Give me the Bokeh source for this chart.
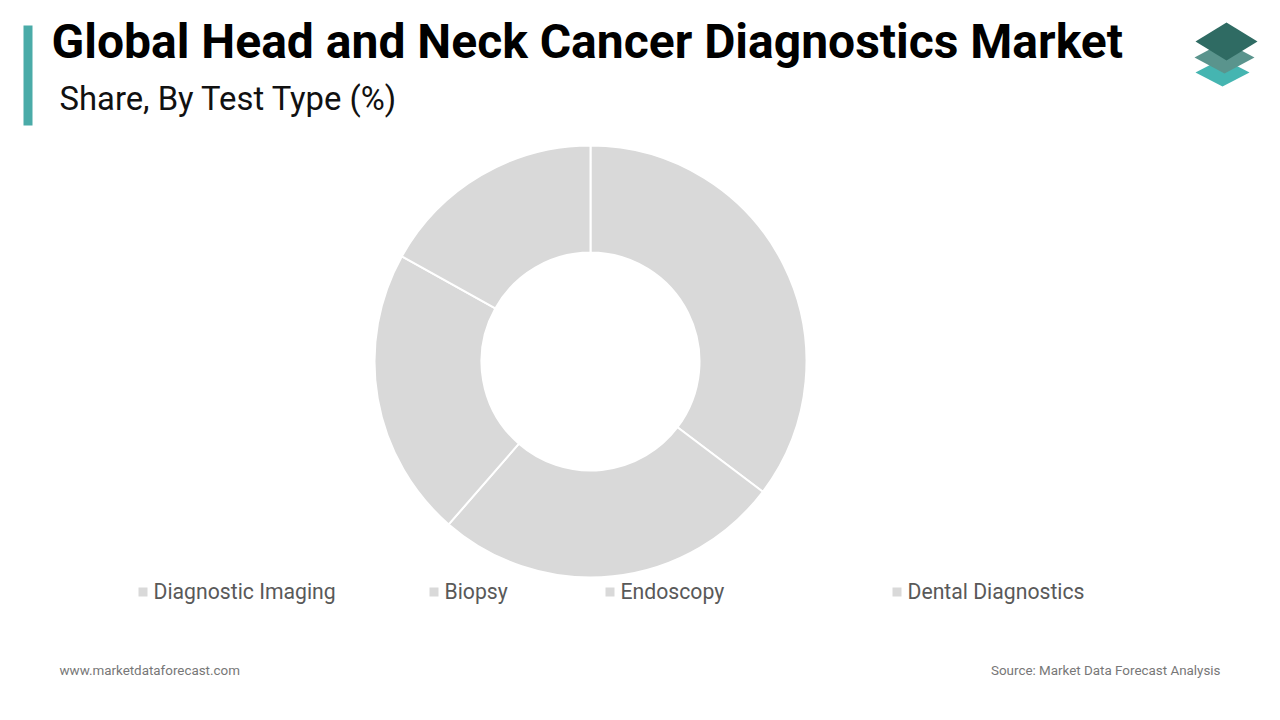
import math
from bokeh.plotting import figure
from bokeh.models import Range1d
from bokeh.core.properties import value
from bokeh.embed import file_html
from bokeh.resources import INLINE

# ---- data ----
categories = ["Diagnostic Imaging", "Biopsy", "Endoscopy", "Dental Diagnostics"]
shares = [35.3, 26.1, 21.7, 16.9]
slice_colors = ["#d9d9d9", "#d9d9d9", "#d9d9d9", "#d9d9d9"]

title_text = "Global Head and Neck Cancer Diagnostics Market"
subtitle_text = "Share, By Test Type (%)"
footer_left = "www.marketdataforecast.com"
footer_right = "Source: Market Data Forecast Analysis"

W, H = 1264, 704
def X(px):  # screenshot px -> data x
    return px
def Y(py):  # screenshot py -> data y
    return H - py

p = figure(width=W, height=H, x_range=Range1d(0, W), y_range=Range1d(0, H),
           output_backend="svg", toolbar_location=None, min_border=0)
p.axis.visible = False
p.grid.visible = False
p.outline_line_color = None
p.background_fill_color = "white"
p.border_fill_color = "white"

# ---- donut ----
total = sum(shares)
starts, ends = [], []
cum = 0.0
for s in shares:
    starts.append(math.pi / 2 - cum / total * 2 * math.pi)
    cum += s
    ends.append(math.pi / 2 - cum / total * 2 * math.pi)
cx, cy = X(590), Y(361)
p.annular_wedge(x=[cx] * len(shares), y=[cy] * len(shares), inner_radius=109, outer_radius=216,
                start_angle=starts, end_angle=ends, direction="clock",
                fill_color=slice_colors, line_color="white", line_width=2)

# ---- title block ----
p.quad(left=X(23), right=X(32), top=Y(25), bottom=Y(125), fill_color="#4aaba8", line_color=None)
p.text(x=[X(51)], y=[Y(41)], text=[title_text], text_font=value("Roboto"), text_font_style="bold",
       text_font_size="48px", text_color="#000000", text_baseline="alphabetic")
p.text(x=[X(59)], y=[Y(98)], text=[subtitle_text], text_font=value("Roboto"),
       text_font_size="32.8px", text_color="#111111", text_baseline="alphabetic")

# ---- logo ----
def diamond(cxp, cyp, hw, hh, color):
    p.patch(x=[X(cxp - hw), X(cxp), X(cxp + hw), X(cxp)],
            y=[Y(cyp), Y(cyp - hh), Y(cyp), Y(cyp + hh)], fill_color=color, line_color=None)
diamond(1222, 72, 27, 14, "#45b5b1")
diamond(1224, 57, 30, 16, "#5a948d")
diamond(1226, 41, 31, 19, "#2f6b63")

# ---- legend ----
leg_sq_x = [138, 429, 605, 892]
for i, cat in enumerate(categories):
    p.quad(left=X(leg_sq_x[i]), right=X(leg_sq_x[i] + 9), top=Y(587), bottom=Y(596),
           fill_color=slice_colors[i], line_color=None)
    p.text(x=[X(leg_sq_x[i] + 15)], y=[Y(591)], text=[cat], text_font=value("Roboto"),
           text_font_size="21.2px", text_color="#595959", text_baseline="middle")

# ---- footer ----
p.text(x=[X(59)], y=[Y(670)], text=[footer_left], text_font=value("Roboto"),
       text_font_size="13.4px", text_color="#777777", text_baseline="middle")
p.text(x=[X(1220)], y=[Y(670)], text=[footer_right], text_font=value("Roboto"),
       text_font_size="13.4px", text_color="#777777", text_baseline="middle", text_align="right")

open("out.html", "w").write(file_html(p, INLINE))
